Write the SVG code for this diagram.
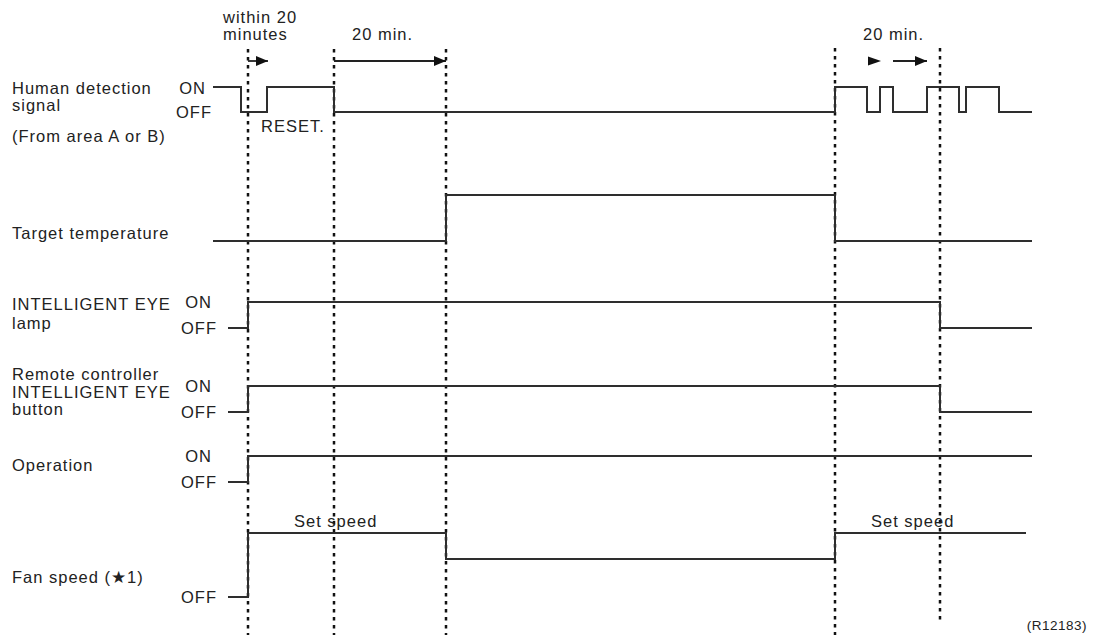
<svg xmlns="http://www.w3.org/2000/svg" width="1099" height="635" viewBox="0 0 1099 635">
<style>
text{font-family:"Liberation Sans",Arial,sans-serif;font-size:16.5px;letter-spacing:1px;fill:#222}
.end{text-anchor:end}
.sig{fill:none;stroke:#2e2e2e;stroke-width:2}
.dot{fill:none;stroke:#111;stroke-width:2.5;stroke-dasharray:3.5 4.5}
.arr{fill:none;stroke:#222;stroke-width:1.8}
.head{fill:#111}
</style>
<defs>
<marker id="ah" markerWidth="12" markerHeight="10" refX="12" refY="5" orient="auto" markerUnits="userSpaceOnUse">
<path d="M0,0 L12,5 L0,10 Z" class="head"/>
</marker>
</defs>
<rect width="1099" height="635" fill="#fff"/>
<g id="gridlines">
<line class="dot" x1="248" y1="49" x2="248" y2="635"/>
<line class="dot" x1="334" y1="49" x2="334" y2="635"/>
<line class="dot" x1="446" y1="49" x2="446" y2="635"/>
<line class="dot" x1="835" y1="48" x2="835" y2="635"/>
<line class="dot" x1="940" y1="48" x2="940" y2="623"/>
</g>
<g id="timing-labels">
<text x="223" y="23">within 20</text>
<text x="223" y="40">minutes</text>
<text x="352" y="40">20 min.</text>
<text x="863" y="40">20 min.</text>
</g>
<g id="connectors">
<line class="arr" x1="248" y1="61" x2="268" y2="61" marker-end="url(#ah)"/>
<line class="arr" x1="334" y1="61" x2="446" y2="61" marker-end="url(#ah)"/>
<path d="M868,56.5 L881,61 L868,65.5 Z" class="head"/>
<line class="arr" x1="893" y1="61" x2="927" y2="61" marker-end="url(#ah)"/>
</g>
<g id="human-detection">
<text x="12" y="94">Human detection</text>
<text x="12" y="111">signal</text>
<text x="12" y="142">(From area A or B)</text>
<text class="end" x="206" y="94">ON</text>
<text class="end" x="212" y="118">OFF</text>
<text x="261" y="132">RESET.</text>
<path class="sig" d="M213,87 H241 V112 H267 V87 H334 V112 H835 V87 H867 V112 H880 V87 H893 V112 H927 V87 H959 V112 H966 V87 H999 V112 H1032"/>
</g>
<g id="target-temperature">
<text x="12" y="239">Target temperature</text>
<path class="sig" d="M213,241 H446 V195 H835 V241 H1032"/>
</g>
<g id="ie-lamp">
<text x="12" y="310">INTELLIGENT EYE</text>
<text x="12" y="329">lamp</text>
<text class="end" x="212" y="308">ON</text>
<text class="end" x="217" y="334">OFF</text>
<path class="sig" d="M228,328 H248 V302 H940 V328 H1032"/>
</g>
<g id="ie-button">
<text x="12" y="380">Remote controller</text>
<text x="12" y="397.5">INTELLIGENT EYE</text>
<text x="12" y="415">button</text>
<text class="end" x="212" y="392">ON</text>
<text class="end" x="217" y="418">OFF</text>
<path class="sig" d="M228,412 H248 V386 H940 V412 H1032"/>
</g>
<g id="operation">
<text x="12" y="471">Operation</text>
<text class="end" x="212" y="462">ON</text>
<text class="end" x="217" y="488">OFF</text>
<path class="sig" d="M228,482 H248 V456 H1032"/>
</g>
<g id="fan-speed">
<text x="12" y="583">Fan speed (★1)</text>
<text class="end" x="217" y="603">OFF</text>
<text x="294" y="527">Set speed</text>
<text x="871" y="527">Set speed</text>
<path class="sig" d="M228,597 H248 V533 H446 V559 H835 V533 H1026"/>
</g>
<text x="1087" y="630" class="end" style="font-size:13.5px;letter-spacing:0.5px">(R12183)</text>
</svg>
